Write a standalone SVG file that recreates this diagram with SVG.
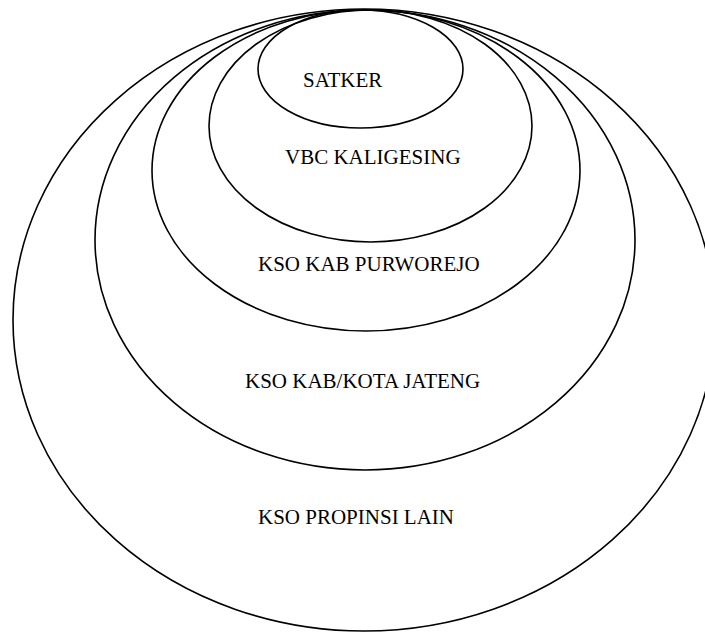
<svg xmlns="http://www.w3.org/2000/svg" width="705" height="632" viewBox="0 0 705 632">
<style>
.e{fill:none;stroke:#000;stroke-width:1.6}
.t{font-family:"Liberation Serif","Times New Roman",serif;font-size:21px;fill:#000}
</style>
<rect width="705" height="632" fill="#fff"/>
<g id="propinsi"><ellipse class="e" cx="364" cy="320" rx="351" ry="311"/><text class="t" x="258" y="524">KSO PROPINSI LAIN</text></g>
<g id="jateng"><ellipse class="e" cx="365" cy="240" rx="270" ry="230"/><text class="t" x="245" y="388">KSO KAB/KOTA JATENG</text></g>
<g id="purworejo"><ellipse class="e" cx="366" cy="170.5" rx="214" ry="160.5"/><text class="t" x="258" y="271">KSO KAB PURWOREJO</text></g>
<g id="vbc"><ellipse class="e" cx="370.5" cy="126" rx="161.5" ry="116"/><text class="t" x="285" y="164">VBC KALIGESING</text></g>
<g id="satker"><ellipse class="e" cx="360.5" cy="69" rx="102.5" ry="59"/><text class="t" x="303" y="87">SATKER</text></g>
<g id="connectors"/>
</svg>
